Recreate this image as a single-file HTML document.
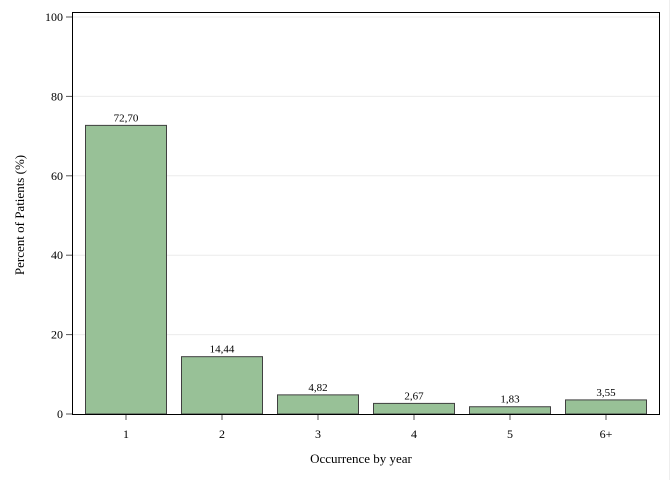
<!DOCTYPE html>
<html><head><meta charset="utf-8"><style>
body{margin:0;background:#fff;}
svg{display:block;font-family:"Liberation Serif",serif;}
</style></head><body>
<svg id="c" width="672" height="480" viewBox="0 0 672 480">
<line x1="669.5" y1="0" x2="669.5" y2="480" stroke="#eee"/>
<g id="grid"></g><g id="bars"></g><g id="axes"></g>
<text x="361" y="463" font-size="13" text-anchor="middle">Occurrence by year</text>
<text transform="translate(24,215) rotate(-90)" font-size="13" text-anchor="middle">Percent of Patients (%)</text>
</svg>
<script>
const categories=["1","2","3","4","5","6+"];
const values=[72.70,14.44,4.82,2.67,1.83,3.55];
const valueLabels=["72,70","14,44","4,82","2,67","1,83","3,55"];
const yTicks=[0,20,40,60,80,100];
const NS="http://www.w3.org/2000/svg";
const L=72,R=659,T=12,B=414;
const y=v=>B-v*3.97;
const x=i=>126+i*96;
const bw=81;
function mk(t,a,p){const e=document.createElementNS(NS,t);for(const k in a)e.setAttribute(k,a[k]);p.appendChild(e);return e;}
const grid=document.getElementById('grid'),bars=document.getElementById('bars'),axes=document.getElementById('axes');
yTicks.forEach(v=>{
 if(v>0){const g=mk('line',{x1:L,x2:R,y1:y(v),y2:y(v),stroke:'#ececec'},grid);
 
 }
 const t=mk('line',{x1:L-6,x2:L,y1:y(v),y2:y(v),stroke:'#555'},axes);
 
 
 const l=mk('text',{x:L-9,y:y(v)+4,'font-size':12,'text-anchor':'end'},axes);l.textContent=v;
 
 
});
categories.forEach((c,i)=>{
 const r=mk('rect',{x:x(i)-bw/2,y:y(values[i]),width:bw,height:B-y(values[i]),fill:'#98c197',stroke:'#404040','stroke-width':1},bars);
 
 
 const vl=mk('text',{x:x(i),y:y(values[i])-4,'font-size':11,'text-anchor':'middle'},bars);vl.textContent=valueLabels[i];
 
 
 const t=mk('line',{x1:x(i),x2:x(i),y1:B,y2:B+6,stroke:'#555'},axes);
 
 
 const l=mk('text',{x:x(i),y:B+24,'font-size':12,'text-anchor':'middle'},axes);l.textContent=c;
 
 
});
const f=mk('rect',{x:L+0.5,y:T+0.5,width:R-L,height:B-T,fill:'none',stroke:'#000'},axes);


</script>
</body></html>
